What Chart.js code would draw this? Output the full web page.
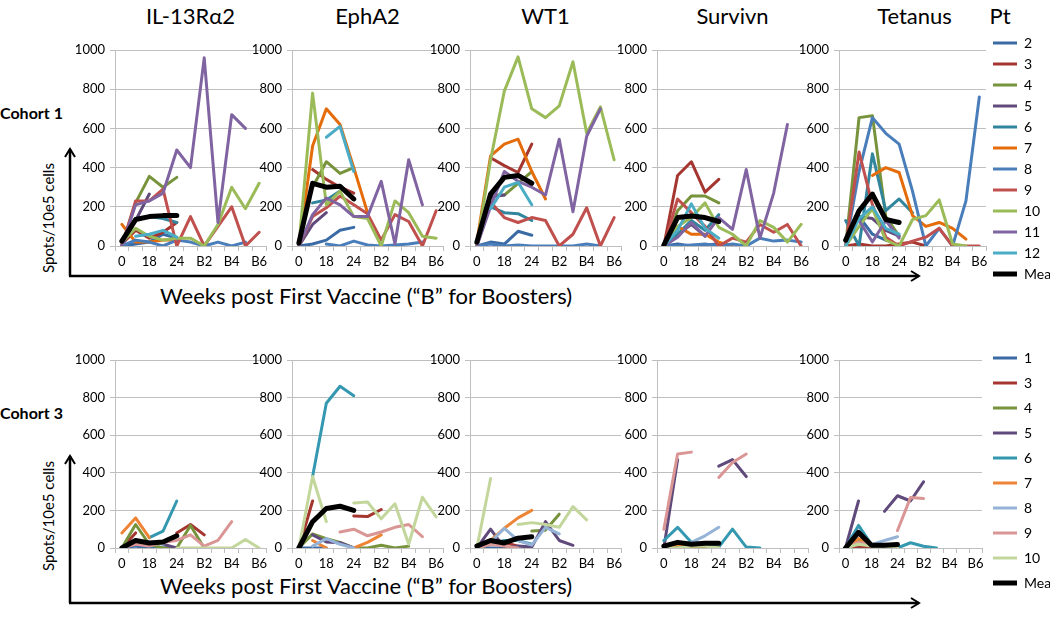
<!DOCTYPE html>
<html>
<head>
<meta charset="utf-8">
<script src="https://cdn.jsdelivr.net/npm/chart.js@4.4.1/dist/chart.umd.min.js"></script>
<style>
  html, body { margin: 0; padding: 0; background: #fff; }
  #page { position: relative; width: 1050px; height: 623px; overflow: hidden; font-family: Lato, "Open Sans", sans-serif; color: #000; }
  #page canvas { position: absolute; }
  .txt { position: absolute; white-space: nowrap; transform: translate(-50%, -50%); }
  .title { font-size: 22px; top: 15px; }
  .cohort { font-size: 16px; font-weight: bold; transform: translate(0, -50%); left: 0; }
  .spots { font-size: 15px; left: 48px; transform: translate(-50%, -50%) rotate(-90deg); }
  .weeks { font-size: 22px; left: 160px; transform: translate(0, -50%); }
  svg { position: absolute; left: 0; top: 0; }
</style>
</head>
<body>
<div id="page">
  <svg width="1050" height="623">
    <defs>
      <marker id="head" markerWidth="12" markerHeight="12" refX="9" refY="6" orient="auto" markerUnits="userSpaceOnUse">
        <path d="M1,1 L9,6 L1,11" fill="none" stroke="#000" stroke-width="2"/>
      </marker>
    </defs>
    <line x1="70" y1="276" x2="70" y2="149" stroke="#000" stroke-width="2.5" marker-end="url(#head)"/>
    <line x1="69" y1="276" x2="919" y2="276" stroke="#000" stroke-width="2.5" marker-end="url(#head)"/>
    <line x1="70" y1="603" x2="70" y2="456" stroke="#000" stroke-width="2.5" marker-end="url(#head)"/>
    <line x1="69" y1="603" x2="919" y2="603" stroke="#000" stroke-width="2.5" marker-end="url(#head)"/>
  </svg>
  <div class="txt cohort" style="top:112px">Cohort 1</div>
  <div class="txt cohort" style="top:412px">Cohort 3</div>
  <div class="txt spots" style="top:218px">Spots/10e5 cells</div>
  <div class="txt spots" style="top:516px">Spots/10e5 cells</div>
  <div class="txt weeks" style="top:295px">Weeks post First Vaccine (“B” for Boosters)</div>
  <div class="txt weeks" style="top:585px">Weeks post First Vaccine (“B” for Boosters)</div>
</div>
<script>
// Categories and series names
const weekLabels = ['0', '', '18', '', '24', '', 'B2', '', 'B4', '', 'B6'];
const antigens = ['IL-13Rα2', 'EphA2', 'WT1', 'Survivn', 'Tetanus'];

const cohort1Patients = ['2', '3', '4', '5', '6', '7', '8', '9', '10', '11', '12', 'Mean'];
const cohort1Colors = ['#3a6ba5', '#a5362f', '#77933c', '#604a7b', '#31859c', '#e46c0a',
  '#4a7ebb', '#c0504d', '#9bbb59', '#8064a2', '#4bacc6', '#000000'];

const cohort3Patients = ['1', '3', '4', '5', '6', '7', '8', '9', '10', 'Mean'];
const cohort3Colors = ['#3a6ba5', '#a5362f', '#77933c', '#604a7b', '#3499b0', '#ee8436',
  '#95b3d7', '#d99694', '#c3d69b', '#000000'];

// Cohort 1 values, one row per patient (same order as cohort1Patients)
const il13Cohort1 = [
  [0, 10, 20, 60, 40],
  [10, 80, 40, 70, 120],
  [0, 220, 355, 300, 350],
  [0, 130, 265],
  [null, 140, 150, 140, 120],
  [110, 20, 20, 30, 30],
  [0, 30, 20, 0, 30, 20, 0, 20, 0, 20],
  [0, 230, 230, 290, 0, 150, 0, 100, 200, 0, 70],
  [20, 90, 50, 30, 40, 40, 0, 110, 300, 190, 320],
  [0, 210, 230, 270, 490, 400, 960, 120, 670, 600],
  [null, 50, 60, 80, 45],
  [25, 135, 150, 155, 155]
];
const ephCohort1 = [
  [0, 10, 30, 80, 95],
  [null, 390, 340, 300, 270],
  [null, 300, 430, 370, 400],
  [0, 110, 170],
  [null, 220, 235, 280],
  [0, 510, 700, 620, 400, 170],
  [null, null, 10, 0, 25, 5, 0, 5, 10, 20],
  [0, 150, 195, 255, 210, 165, 30, 160, 125, 0, 180],
  [0, 780, 210, 280, 150, 140, 0, 230, 170, 50, 40],
  [0, 160, 245, 210, 150, 150, 330, 10, 440, 210],
  [null, null, 555, 610, 380],
  [15, 320, 300, 305, 240]
];
const wt1Cohort1 = [
  [0, 20, 10, 75, 55],
  [null, 450, 410, 375, 520],
  [null, 260, 260, 320, 380],
  [null, 250, 260],
  [null, 200, 170, 165, 130],
  [20, 460, 520, 545, 380, 240],
  [0, 10, 0, 5, 0, 0, 0, 0, 10, 0],
  [0, 225, 145, 120, 145, 130, 0, 60, 195, 0, 145],
  [0, 440, 790, 965, 700, 655, 715, 940, 575, 710, 440],
  [0, 200, 380, 330, 300, 260, 545, 175, 560, 700],
  [null, 190, 300, 325, 210],
  [20, 265, 350, 360, 320]
];
const survCohort1 = [
  [0, 10, 0, 5, 10],
  [0, 360, 430, 275, 340],
  [0, 180, 255, 255, 220],
  [0, 60, 110, 50],
  [0, 60, 130, 80, 160],
  [0, 100, 60, 60, 20, 0],
  [0, 0, 5, 10, 0, 10, 0, 40, 25, 30, 20],
  [0, 240, 170, 100, 0, 40, 20, 110, 70, 110, 0],
  [0, 100, 145, 220, 95, 60, 0, 130, 95, 20, 110],
  [0, 45, 120, 50, 145, 85, 390, 40, 270, 620],
  [0, 80, 215, 90, 40],
  [5, 145, 153, 145, 125]
];
const tetCohort1 = [
  [0, 150, 60, 30],
  [0, 10, 0, 0, 10, 20, 0],
  [0, 655, 665, 150, 50],
  [null, 150, 140, 80, 50],
  [130, 0, 470, 180, 240, 170],
  [null, null, 360, 400, 375, 155, 100, 120, 90, 35],
  [0, 380, 655, 575, 520, 280, 0, 90, 0, 230, 760],
  [0, 480, 210, 45, 0, 25, 45, 90, 0, 0, 0],
  [0, 100, 190, 30, 0, 135, 155, 235, 10, 0],
  [null, 130, 20, 130, 40],
  [0, 140, 200, 90, 60],
  [30, 180, 265, 135, 120]
];

// Cohort 3 values, one row per patient (same order as cohort3Patients)
const il13Cohort3 = [
  [0, 10, 0, 0, 0],
  [0, 80, null, null, 80, 125, 70],
  [0, 125, 20, 0, 0, 120, 0],
  [null, null, null, 20, 0],
  [null, null, 55, 90, 250],
  [80, 160, 55],
  [null, 20, 30, 20],
  [0, 20, 10, 30, 40, 70, 10, 40, 140],
  [null, null, null, null, 0, 0, 0, 0, 0, 45, 0],
  [0, 40, 27, 32, 65]
];
const ephCohort3 = [
  [0, 0, 0],
  [0, 250, null, null, 170, 167, 205],
  [0, 75, 50, 30, 0, 0, 15, 0, 10],
  [null, 70, 32, 28, 0],
  [null, 380, 770, 860, 810],
  [null, 40, 0, null, 0, 30, 70],
  [null, 10, 50, 20, 0],
  [null, null, null, 85, 100, 65, 85, 110, 125, 60],
  [0, 380, 140, null, 240, 245, 155, 235, 20, 270, 165],
  [0, 140, 210, 222, 200]
];
const wt1Cohort3 = [
  [0, 0, 0, 0],
  [0, 20, 30, 10],
  [null, null, null, null, 90, 95, 180],
  [0, 100, 0, 10, 5, 140, 40, 14],
  [0, 20, 40, 40, 20],
  [null, 40, 105, 160, 200],
  [null, 30, 105, 40, 15, 110, 75],
  [0, 20, 10, 0],
  [0, 370, null, 125, 135, 125, 110, 220, 150],
  [10, 40, 27, 52, 60]
];
const survCohort3 = [
  [0, 0, 0, 0, 0],
  [0, 10, 0],
  [0, 10, 0, 0],
  [0, 470, null, null, 435, 470, 380],
  [40, 110, 30, 20, 5, 100, 5, 0],
  [0, 20, 10, 10, 0],
  [null, null, 30, 65, 110],
  [100, 500, 510, null, 375, 455, 500],
  [0, 0, 10, 10, 0],
  [10, 30, 20, 25, 25]
];
const tetCohort3 = [
  [0, 0, 0, 0],
  [0, 10, 0],
  [0, 40, 10, 0],
  [0, 250, null, 195, 278, 250, 352],
  [0, 120, 18, 15, 0, 28, 9, 0],
  [0, 50, 20, 10, 0],
  [null, null, 18, 40, 60],
  [0, 30, 20, null, 93, 268, 263],
  [0, 20, 10, 10, 0],
  [0, 83, 15, 15, 18]
];

// Layout
const FONT = 'Lato, "Open Sans", sans-serif';
const GRID = '#bfbfbf';
const Y_AXIS_W = 45;
const PLOT_W = 151;
const panelAxisX = [115, 292, 470, 657, 839];

const rows = [
  { top: 29, spacer: 21, plotH: 196, xAxisH: 45, legendPad: 7, legendW: 64,
    patients: cohort1Patients, colors: cohort1Colors,
    panels: [il13Cohort1, ephCohort1, wt1Cohort1, survCohort1, tetCohort1] },
  { top: 340, spacer: 20, plotH: 188, xAxisH: 60, legendPad: 11, legendW: 68,
    patients: cohort3Patients, colors: cohort3Colors,
    panels: [il13Cohort3, ephCohort3, wt1Cohort3, survCohort3, tetCohort3] }
];

const page = document.getElementById('page');

// Column titles
antigens.concat(['Pt']).forEach((name, i) => {
  const div = document.createElement('div');
  div.className = 'txt title';
  div.textContent = name;
  div.style.left = (i < antigens.length ? panelAxisX[i] + PLOT_W / 2 : 1000) + 'px';
  page.appendChild(div);
});

function buildPanel(row, col) {
  const hasLegend = col === antigens.length - 1;
  const left = panelAxisX[col] - Y_AXIS_W;
  const width = hasLegend ? 1050 - left : Y_AXIS_W + PLOT_W + 10;
  const height = row.spacer + row.plotH + row.xAxisH;

  const canvas = document.createElement('canvas');
  canvas.width = width;
  canvas.height = height;
  canvas.style.left = left + 'px';
  canvas.style.top = row.top + 'px';
  page.appendChild(canvas);

  const datasets = row.panels[col].map((values, i) => {
    const isMean = row.patients[i] === 'Mean';
    return {
      label: row.patients[i],
      data: values,
      borderColor: row.colors[i],
      backgroundColor: row.colors[i],
      borderWidth: isMean ? 5 : 3,
      order: isMean ? 0 : 100 - i,
      pointRadius: 0,
      pointHoverRadius: 0,
      tension: 0,
      borderJoinStyle: 'round',
      borderCapStyle: 'round'
    };
  });

  new Chart(canvas, {
    type: 'line',
    data: { labels: weekLabels, datasets },
    options: {
      responsive: false,
      animation: false,
      events: [],
      layout: { padding: { left: 0, right: hasLegend ? 0 : 10, top: 0, bottom: 0 } },
      plugins: {
        tooltip: { enabled: false },
        title: {
          display: true,
          text: '',
          font: { size: 1, lineHeight: 1 },
          padding: { top: row.spacer - 1, bottom: 0 }
        },
        legend: hasLegend ? {
          display: true,
          position: 'right',
          align: 'start',
          maxWidth: row.legendW,
          labels: {
            usePointStyle: true,
            pointStyle: 'line',
            pointStyleWidth: 24,
            padding: row.legendPad,
            color: '#000',
            font: { family: FONT, size: 14 },
            sort: (a, b) => a.datasetIndex - b.datasetIndex
          }
        } : { display: false }
      },
      scales: {
        x: {
          offset: true,
          grid: { offset: true, drawOnChartArea: false, tickLength: 5, color: GRID },
          border: { color: GRID },
          ticks: { autoSkip: false, maxRotation: 0, minRotation: 0, padding: 3, color: '#000',
            font: { family: FONT, size: 13 } },
          afterFit: s => { s.height = row.xAxisH; }
        },
        y: {
          min: 0,
          max: 1000,
          grid: { color: GRID, tickLength: 5 },
          border: { color: GRID },
          ticks: { stepSize: 200, padding: 5, color: '#000', font: { family: FONT, size: 13 },
            callback: v => String(v) },
          afterFit: s => { s.width = Y_AXIS_W; }
        }
      }
    }
  });
}

rows.forEach(row => {
  antigens.forEach((name, col) => buildPanel(row, col));
});
</script>
</body>
</html>
